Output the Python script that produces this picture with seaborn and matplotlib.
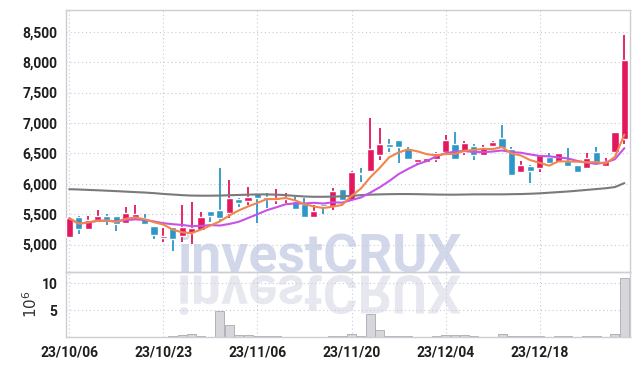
import pandas as pd
import numpy as np
import seaborn as sns
import matplotlib.pyplot as plt
import matplotlib.transforms as mtransforms
from matplotlib.textpath import TextPath
from matplotlib.patches import PathPatch
from matplotlib.font_manager import FontProperties

# trading days (KRX closed on these)
holidays = ["2023-10-09", "2023-12-25", "2023-12-29", "2024-01-01"]
dates = pd.bdate_range("2023-10-06", periods=60, freq="C", holidays=holidays)

opens = [5128, 5457, 5255, 5403, 5469, 5469, 5349, 5457, 5431, 5304,
         5112, 5283, 5140, 5184, 5238, 5551, 5568, 5513, 5743, 5721,
         5842, 5776, 5732, 5743, 5715, 5661, 5457, 5666, 5638, 5908,
         5732, 6170, 6214, 6467, 6653, 6719, 6566, 6362, 6362, 6406,
         6527, 6653, 6516, 6620, 6472, 6625, 6757, 6566, 6198, 6291,
         6264, 6434, 6362, 6374, 6308, 6253, 6517, 6297, 6527, 6730]
highs = [5440, 5470, 5474, 5568, 5507, 5475, 5612, 5650, 5510, 5304,
         5266, 5290, 5650, 5700, 5540, 5551, 6253, 6061, 5770, 5941,
         5850, 5842, 5908, 5850, 5776, 5760, 5650, 5680, 5924, 5908,
         6210, 6263, 7076, 6921, 6730, 6719, 6609, 6410, 6430, 6520,
         6801, 6846, 6700, 6653, 6640, 6700, 6966, 6600, 6374, 6300,
         6480, 6500, 6510, 6592, 6310, 6500, 6609, 6420, 6850, 8446]
lows = [5120, 5170, 5255, 5375, 5321, 5222, 5340, 5410, 5330, 5085,
        5046, 4893, 5046, 5008, 5222, 5375, 5375, 5431, 5612, 5650,
        5359, 5595, 5660, 5677, 5584, 5457, 5457, 5502, 5568, 5720,
        5720, 6033, 6200, 6390, 6527, 6336, 6406, 6308, 6350, 6362,
        6520, 6400, 6472, 6390, 6460, 6620, 6582, 6143, 6171, 6007,
        6198, 6340, 6350, 6290, 6171, 6250, 6330, 6297, 6520, 6653]
closes = [5431, 5255, 5403, 5469, 5403, 5332, 5513, 5502, 5332, 5156,
          5140, 5090, 5283, 5266, 5447, 5474, 5431, 5760, 5688, 5776,
          5770, 5743, 5760, 5776, 5584, 5457, 5551, 5633, 5885, 5732,
          6198, 6155, 6566, 6653, 6599, 6599, 6406, 6406, 6418, 6500,
          6719, 6406, 6675, 6472, 6599, 6691, 6582, 6143, 6308, 6214,
          6472, 6346, 6500, 6297, 6198, 6420, 6362, 6379, 6846, 8035]
# volume in millions
volume = [0, 0, 0, 0, 0, 0, 0, 0, 0, 0,
          0, 0.2, 0.3, 0.5, 0.2, 0, 4.8, 2.2, 0.3, 0.3,
          0.15, 0.1, 0.1, 0, 0, 0, 0, 0, 0.1, 0.2,
          0.5, 0.2, 4.2, 1.25, 0.1, 0.1, 0.1, 0, 0, 0.1,
          0.3, 0.3, 0.3, 0.15, 0, 0, 0.5, 0.25, 0.1, 0.1,
          0.1, 0, 0.1, 0.1, 0, 0.1, 0.1, 0, 0.5, 11.0]
# long moving average (grey)
ma_long = [5910, 5905, 5898, 5892, 5885, 5878, 5870, 5862, 5855, 5845,
           5832, 5822, 5812, 5805, 5803, 5803, 5805, 5810, 5815, 5820,
           5824, 5824, 5820, 5812, 5800, 5790, 5785, 5785, 5788, 5792,
           5800, 5812, 5820, 5825, 5828, 5830, 5830, 5828, 5825, 5822,
           5820, 5820, 5822, 5825, 5825, 5825, 5825, 5828, 5830, 5835,
           5842, 5852, 5862, 5872, 5885, 5898, 5912, 5925, 5945, 6010]

df = pd.DataFrame({"date": dates, "open": opens, "high": highs, "low": lows,
                   "close": closes, "volume": volume, "ma_long": ma_long})
df["idx"] = np.arange(len(df))
df["ma5"] = df["close"].rolling(5, min_periods=1).mean()
df["ma10"] = df["close"].rolling(10, min_periods=1).mean()

RED = "#E3175E"
BLUE = "#2C97C8"
GRID = "#C6C9DC"
SPINE = "#CDCDD6"

sns.set_theme(style="white")
plt.rcParams["font.family"] = ["Roboto", "DejaVu Sans"]

fig = plt.figure(figsize=(6.39, 3.66), dpi=100)
fig.patch.set_facecolor("white")
ax = fig.add_axes([66 / 639, 1 - 272 / 366, 564 / 639, 262 / 366])
axv = fig.add_axes([66 / 639, 1 - 337 / 366, 564 / 639, 65 / 366], sharex=ax)

# candles
up = df["close"] >= df["open"]
colors = np.where(up, RED, BLUE)
ax.vlines(df["idx"], df["low"], df["high"], colors=colors, lw=1.3, zorder=3)
body = (df["close"] - df["open"]).abs().clip(lower=18)
ax.bar(df["idx"], body, bottom=np.minimum(df["open"], df["close"]),
       width=0.76, color=colors, zorder=4)

sns.lineplot(data=df, x="idx", y="ma_long", color="#7A7A7A", lw=1.5, ax=ax, zorder=5)
sns.lineplot(data=df, x="idx", y="ma10", color="#C752E8", lw=1.5, ax=ax, zorder=5)
sns.lineplot(data=df, x="idx", y="ma5", color="#F0864A", lw=1.5, ax=ax, zorder=5)

sns.barplot(data=df, x="idx", y="volume", native_scale=True, color="#D6D6DB",
            edgecolor="#A9A9B2", linewidth=0.6, width=0.95, saturation=1,
            errorbar=None, ax=axv)

ax.set_xlim(-0.35, 59.6)
ax.set_ylim(4548, 8857)
ax.set_yticks([5000, 5500, 6000, 6500, 7000, 7500, 8000, 8500])
ax.set_yticklabels([f"{v:,}" for v in ax.get_yticks().astype(int)])
axv.set_ylim(0, 12.06)
axv.set_yticks([5, 10])
tick_pos = list(range(0, 60, 10))
axv.set_xticks(tick_pos)
axv.set_xticklabels([dates[i].strftime("%y/%m/%d") for i in tick_pos])
ax.tick_params(labelbottom=False)

for a in (ax, axv):
    a.patch.set_visible(False)
    a.set_xlabel("")
    a.set_ylabel("")
    a.grid(True, ls=(0, (1, 2.5)), color=GRID, lw=0.8)
    a.tick_params(length=0, pad=6, labelsize=10, labelcolor="#1E1E1E")
    for lbl in a.get_xticklabels() + a.get_yticklabels():
        lbl.set_fontweight("bold")
    for s in a.spines.values():
        s.set_color(SPINE)
        s.set_linewidth(1.0)

axv.set_ylabel(r"$10^6$", fontsize=11, color="#333333")
axv.yaxis.set_label_coords(-0.046, 0.5)

# watermark and its reflection
fig.text(177 / 639, 94 / 366, "investCRUX", fontsize=38.5, family="Roboto",
         weight="bold", color="#D2D8EA", va="baseline", ha="left", zorder=-1)
fp = FontProperties(family="Roboto", weight="bold")
tp = TextPath((0, 0), "investCRUX", size=38.5, prop=fp)
mirror = (mtransforms.Affine2D().scale(1 / 72, -1 / 72).translate(1.77, 0.905)
          + fig.dpi_scale_trans)
fig.add_artist(PathPatch(tp, transform=mirror, fc="#E7E8EF", ec="none", zorder=-1))

fig.savefig("out.png", dpi=100)
